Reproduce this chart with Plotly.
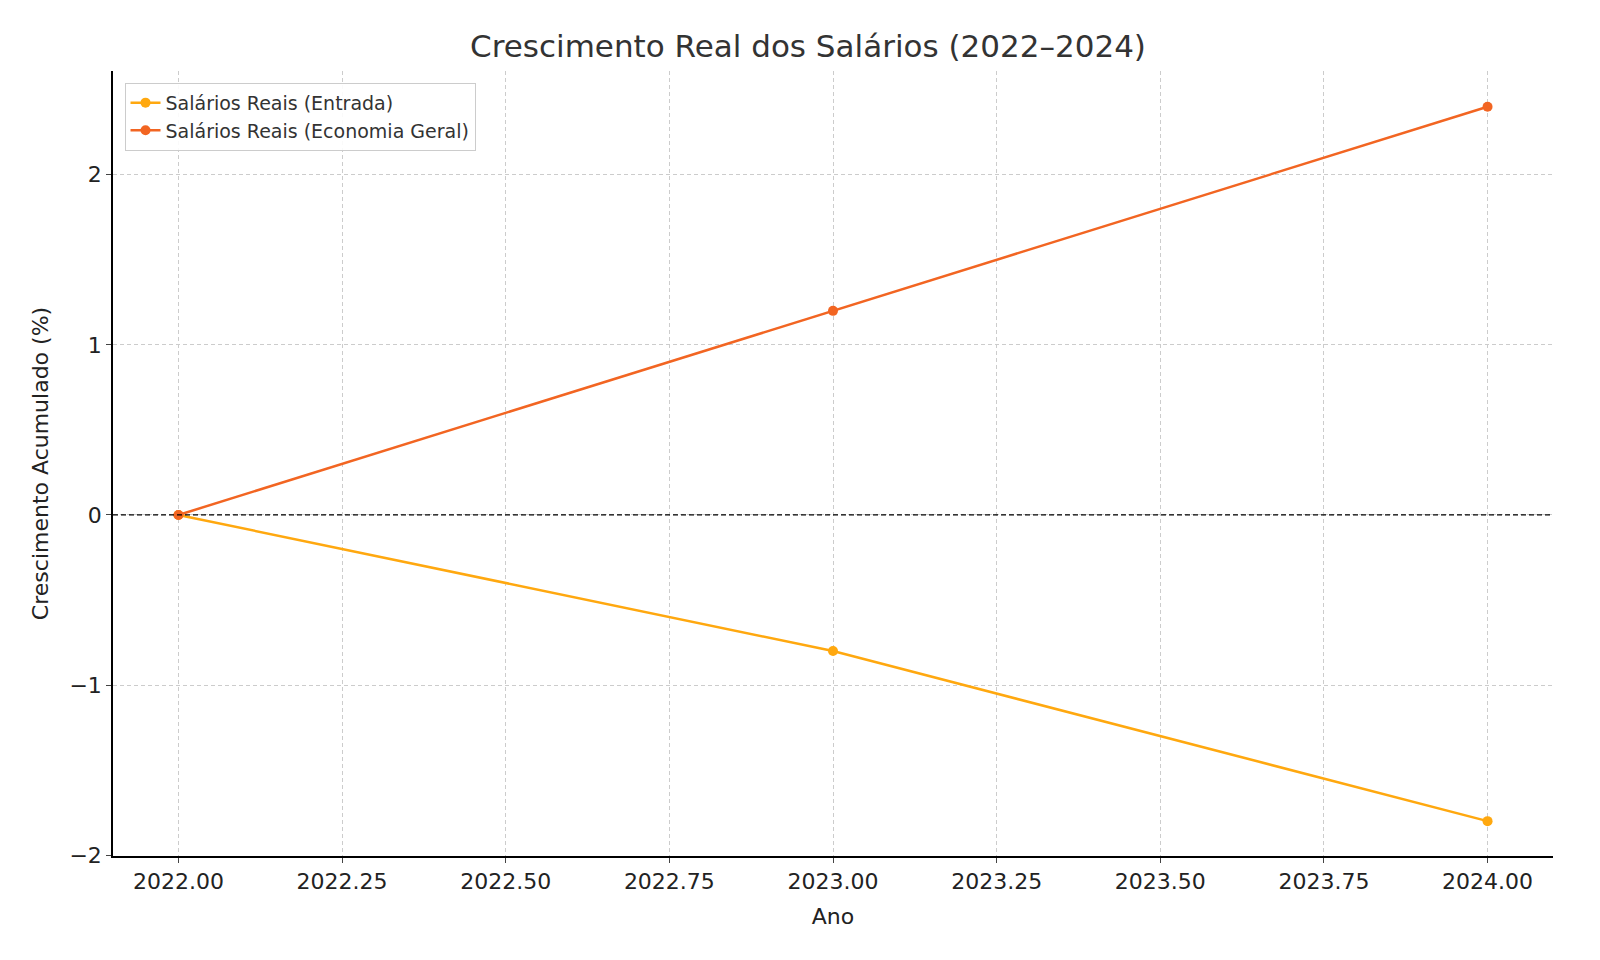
import plotly.graph_objects as go

anos = [2022, 2023, 2024]
entrada = [0.0, -0.8, -1.8]
geral = [0.0, 1.2, 2.4]
xticks = [2022.0, 2022.25, 2022.5, 2022.75, 2023.0, 2023.25, 2023.5, 2023.75, 2024.0]
yticks = [-2, -1, 0, 1, 2]

fig = go.Figure()
fig.add_trace(go.Scatter(x=anos, y=entrada, mode="lines+markers", name="Salários Reais (Entrada)",
                         line=dict(color="#FFA80F", width=2.5), marker=dict(size=10, color="#FFA80F")))
fig.add_trace(go.Scatter(x=anos, y=geral, mode="lines+markers", name="Salários Reais (Economia Geral)",
                         line=dict(color="#F26522", width=2.5), marker=dict(size=10, color="#F26522")))
fig.add_hline(y=0, line=dict(color="black", width=1.3, dash="5px,3px"))

fig.update_layout(
    width=1600, height=960, paper_bgcolor="white", plot_bgcolor="white",
    font=dict(family="DejaVu Sans", size=22, color="#222"),
    margin=dict(l=105, r=55, t=63, b=112),
    title=dict(text="Crescimento Real dos Salários (2022–2024)", x=0.5, xanchor="center",
               y=0.96, yanchor="middle", font=dict(size=31, color="#333")),
    legend=dict(x=0.008, y=0.985, xanchor="left", yanchor="top", bgcolor="rgba(255,255,255,0.9)",
                bordercolor="#ccc", borderwidth=1, font=dict(size=19, color="#333")),
    xaxis=dict(title=dict(text="Ano", font=dict(size=22)), range=[2021.9, 2024.1], tickvals=xticks,
               ticktext=[f"{v:.2f}" for v in xticks], showgrid=True, gridcolor="#cccccc", griddash="4px,3px",
               showline=True, linecolor="black", linewidth=1.5, ticks="outside", zeroline=False),
    yaxis=dict(title=dict(text="Crescimento Acumulado (%)", font=dict(size=22)), range=[-2.005, 2.61],
               tickvals=yticks, ticktext=["−2", "−1", "0", "1", "2"], showgrid=True, gridcolor="#cccccc",
               griddash="4px,3px", showline=True, linecolor="black", linewidth=1.5, ticks="outside", zeroline=False),
)
fig.write_html("out.html")
